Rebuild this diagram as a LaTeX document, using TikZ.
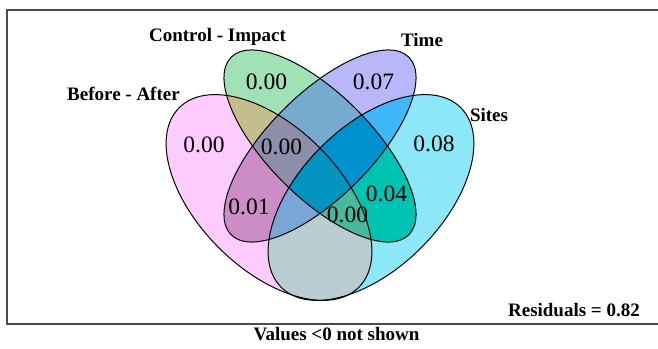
\documentclass[tikz,border=0pt]{standalone}
\usepackage{fontspec}
\setmainfont{Liberation Serif}
\usepackage{tikz}

\definecolor{cBA}{RGB}{255,204,255}
\definecolor{cCI}{RGB}{160,226,182}
\definecolor{cTi}{RGB}{184,184,248}
\definecolor{cSi}{RGB}{140,232,246}
\definecolor{cBACI}{RGB}{196,190,140}
\definecolor{cBATi}{RGB}{204,140,198}
\definecolor{cBASi}{RGB}{184,204,210}
\definecolor{cCITi}{RGB}{118,170,206}
\definecolor{cCISi}{RGB}{0,196,178}
\definecolor{cTiSi}{RGB}{64,184,248}
\definecolor{cBACITi}{RGB}{142,142,170}
\definecolor{cBACISi}{RGB}{72,186,156}
\definecolor{cBATiSi}{RGB}{120,166,214}
\definecolor{cCITiSi}{RGB}{0,146,206}
\definecolor{cAll}{RGB}{0,148,190}

% the four ellipses as clip paths
\newcommand{\inBA}{\clip[rotate around={-45:(269,150.5)}] (269,150.5) ellipse [x radius=127, y radius=71];}
\newcommand{\inSi}{\clip[rotate around={45:(371,150.5)}] (371,150.5) ellipse [x radius=127, y radius=71];}
\newcommand{\inCI}{\clip[rotate around={-45:(320,202)}] (320,202) ellipse [x radius=125.6, y radius=51.6];}
\newcommand{\inTi}{\clip[rotate around={45:(320,202)}] (320,202) ellipse [x radius=125.6, y radius=51.6];}
\newcommand{\paint}[1]{\fill[#1] (0,0) rectangle (658,348);}

\begin{document}
\begin{tikzpicture}[x=1pt,y=1pt]

   \tikzstyle{outline}=[draw=black,line width=1pt]
   \tikzstyle{num}=[font=\fontsize{23.5}{28}\selectfont,inner sep=0pt]
   \tikzstyle{setlabel}=[font=\fontsize{19}{23}\selectfont\bfseries,inner sep=0pt,anchor=base]

   \useasboundingbox (0,0) rectangle (658,348);

   % frame (right side runs off the page)
   \draw[line width=1.6pt,draw=black!70] (7,24) rectangle (675,338);

   % one set
   \begin{scope}\inBA\paint{cBA}\end{scope}
   \begin{scope}\inCI\paint{cCI}\end{scope}
   \begin{scope}\inTi\paint{cTi}\end{scope}
   \begin{scope}\inSi\paint{cSi}\end{scope}

   % two sets
   \begin{scope}\inBA\inCI\paint{cBACI}\end{scope}
   \begin{scope}\inBA\inTi\paint{cBATi}\end{scope}
   \begin{scope}\inBA\inSi\paint{cBASi}\end{scope}
   \begin{scope}\inCI\inTi\paint{cCITi}\end{scope}
   \begin{scope}\inCI\inSi\paint{cCISi}\end{scope}
   \begin{scope}\inTi\inSi\paint{cTiSi}\end{scope}

   % three sets
   \begin{scope}\inBA\inCI\inTi\paint{cBACITi}\end{scope}
   \begin{scope}\inBA\inCI\inSi\paint{cBACISi}\end{scope}
   \begin{scope}\inBA\inTi\inSi\paint{cBATiSi}\end{scope}
   \begin{scope}\inCI\inTi\inSi\paint{cCITiSi}\end{scope}

   % four sets
   \begin{scope}\inBA\inCI\inTi\inSi\paint{cAll}\end{scope}

   % outlines
   \draw[outline,rotate around={-45:(269,150.5)}] (269,150.5) ellipse [x radius=127, y radius=71];
   \draw[outline,rotate around={45:(371,150.5)}] (371,150.5) ellipse [x radius=127, y radius=71];
   \draw[outline,rotate around={-45:(320,202)}] (320,202) ellipse [x radius=125.6, y radius=51.6];
   \draw[outline,rotate around={45:(320,202)}] (320,202) ellipse [x radius=125.6, y radius=51.6];

   % set names
   \node[setlabel] (ci) at (217.5,306) {Control - Impact};
   \node[setlabel] (time) at (422,301) {Time};
   \node[setlabel] (ba) at (123.5,247) {Before - After};
   \node[setlabel] (sites) at (489,226.5) {Sites};

   % fractions
   \node[num] (vCI) at (266.5,266) {0.00};
   \node[num] (vTi) at (373.5,266) {0.07};
   \node[num] (vBA) at (204,203) {0.00};
   \node[num] (vBACITi) at (281.5,201.5) {0.00};
   \node[num] (vSi) at (434,204) {0.08};
   \node[num] (vCISi) at (386.5,154) {0.04};
   \node[num] (vBATi) at (249,141.5) {0.01};
   \node[num] (vBACISi) at (347.5,133) {0.00};

   \node[setlabel,anchor=base east] (resid) at (640,31.5) {Residuals = 0.82};
   \node[setlabel] (note) at (336.5,8) {Values <0 not shown};

\end{tikzpicture}
\end{document}
